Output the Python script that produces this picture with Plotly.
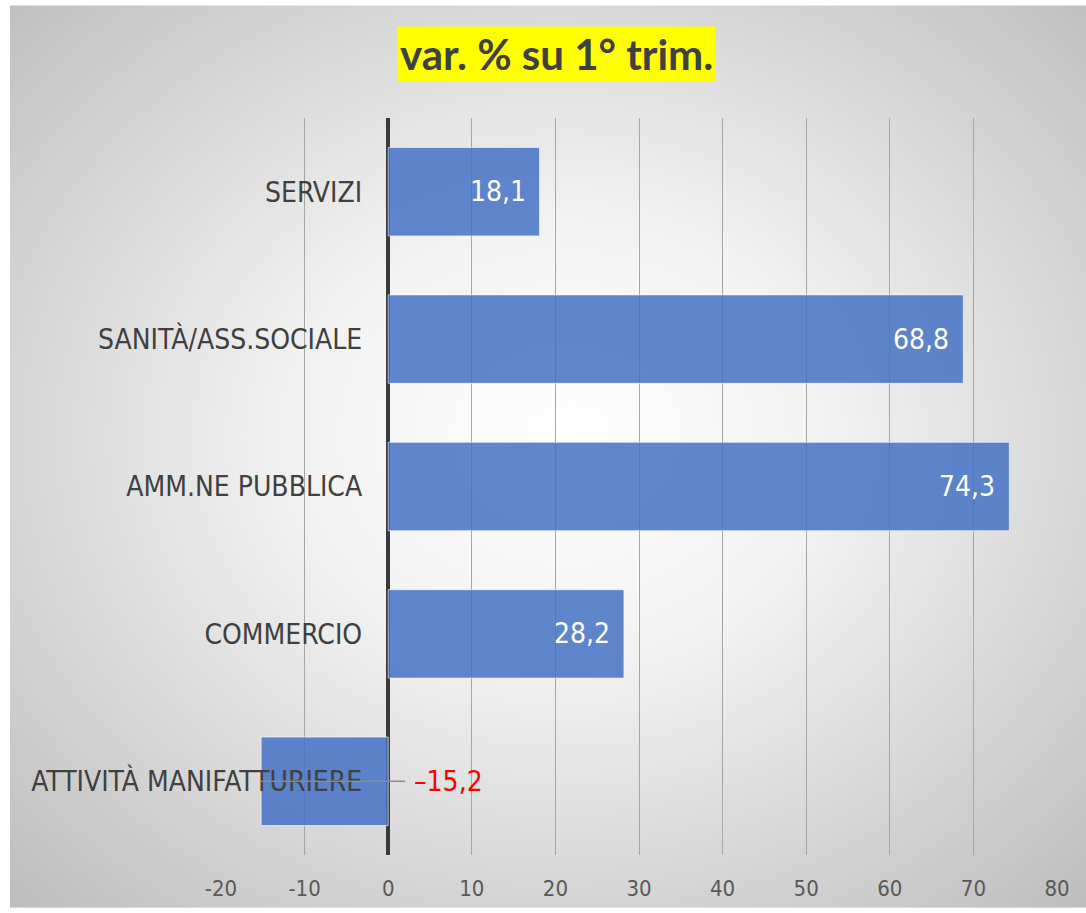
import base64
import plotly.graph_objects as go

categories = ["ATTIVITÀ MANIFATTURIERE", "COMMERCIO", "AMM.NE PUBBLICA", "SANITÀ/ASS.SOCIALE", "SERVIZI"]
values = [-15.2, 28.2, 74.3, 68.8, 18.1]
tick_vals = [-20, -10, 0, 10, 20, 30, 40, 50, 60, 70, 80]
tick_text = ["-20", "-10", "0", "10", "20", "30", "40", "50", "60", "70", "80"]
title_text = "var. % su 1° trim."

W, H = 1086, 913
ML, MR, MT, MB = 221, 29, 118, 56
XMIN, XMAX = -20, 80
pw = W - ML - MR
ph = H - MT - MB

def fmt(v):
    s = f"{abs(v):.1f}".replace(".", ",")
    return ("–" + s) if v < 0 else s

svg = f'''<svg xmlns="http://www.w3.org/2000/svg" width="1076" height="905" viewBox="0 0 1076 905" preserveAspectRatio="none">
<defs><radialGradient id="g" cx="50%" cy="48%" r="72%" fx="52%" fy="48%">
<stop offset="0" stop-color="#ffffff"/><stop offset="0.35" stop-color="#f2f2f2"/><stop offset="1" stop-color="#bdbdbd"/>
</radialGradient></defs><rect x="0" y="0" width="1076" height="905" fill="url(#g)"/></svg>'''
src = "data:image/svg+xml;base64," + base64.b64encode(svg.encode()).decode()

LABEL_FONT = "DejaVu Sans Condensed"

fig = go.Figure()
fig.add_trace(go.Bar(
    y=categories, x=values, orientation="h",
    marker=dict(color="rgba(68,114,196,0.85)", line=dict(color="rgba(255,255,255,0.6)", width=1)),
    width=0.6, hoverinfo="skip",
))

annotations = []
for c, v in zip(categories, values):
    if v >= 0:
        annotations.append(dict(x=v, y=c, xref="x", yref="y", text=fmt(v), showarrow=False,
                                xanchor="right", xshift=-12,
                                font=dict(family=LABEL_FONT, size=28, color="white")))
    else:
        annotations.append(dict(x=0, y=c, xref="x", yref="y", text=fmt(v), showarrow=False,
                                xanchor="left", xshift=24,
                                font=dict(family=LABEL_FONT, size=28, color="#ff0000")))
        fig.add_shape(type="line", xref="x", yref="y", x0=v, x1=(XMAX - XMIN) * 17 / pw, y0=c, y1=c,
                      line=dict(color="#8c8c8c", width=1.5))

annotations.append(dict(x=(556 - ML) / pw, y=(H - 54 - MB) / ph, xref="paper", yref="paper", yanchor="middle",
                        text=f"<b>{title_text}</b>", showarrow=False, bgcolor="#ffff00",
                        borderpad=2,
                        font=dict(family="Lato", size=42, color="#404040")))

fig.update_layout(
    width=W, height=H,
    margin=dict(l=ML, r=MR, t=MT, b=MB),
    paper_bgcolor="white", plot_bgcolor="rgba(0,0,0,0)",
    showlegend=False,
    bargap=0.4,
    annotations=annotations,
    images=[dict(source=src, xref="paper", yref="paper",
                 x=(10 - ML) / pw, y=(H - 5 - MB) / ph,
                 sizex=1076 / pw, sizey=905 / ph,
                 xanchor="left", yanchor="top", sizing="stretch", layer="below")],
    xaxis=dict(range=[XMIN, XMAX], tickvals=tick_vals, ticktext=tick_text,
               showgrid=True, gridcolor="#a6a6a6", gridwidth=1,
               zeroline=True, zerolinecolor="#3a3a3a", zerolinewidth=3.5,
               showline=False, ticks="", ticklabelstandoff=18,
               tickfont=dict(family="Liberation Sans Narrow, DejaVu Sans Condensed", size=22, color="#595959")),
    yaxis=dict(anchor="free", position=(0 - XMIN) / (XMAX - XMIN), showgrid=False, zeroline=False,
               showline=False, ticks="", ticklabelstandoff=26,
               tickfont=dict(family=LABEL_FONT, size=28, color="#404040")),
)

fig.write_html("out.html")
